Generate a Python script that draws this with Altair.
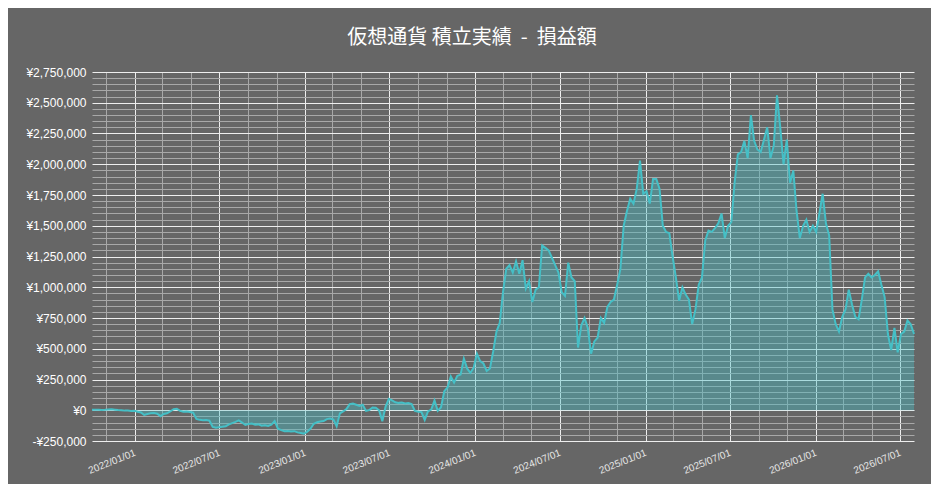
import altair as alt
import pandas as pd

# ---- data ----
start_date = "2021-10-01"          # weekly observations
pl_thousand_yen = [
    5, 4, 5, 3, 4, 6, 8, 5, 2, 0, -3, -2, -6, -4,
    -12, -18, -38, -30, -25, -22, -28, -48,
    -30, -25, -10, 8, 12, -5, -12, -10, -15, -20,
    -70, -78, -82, -80, -85, -135, -142, -138, -135, -130, -115,
    -105, -95, -82, -100, -120, -112, -108, -118, -115,
    -125, -122, -128, -118, -88, -150, -162, -170, -168, -172, -170, -180,
    -185, -190, -175, -150, -110, -98, -92, -88, -72, -68, -75, -130, -25,
    -10, 10, 50, 55, 45, 35, 45,
    -5, 2, 22, 20, 0, -90, 30, 92, 80,
    65, 60, 62, 55, 58, 50, -5, -12, -15, -80, -10, 5, 80, -5, 25,
    155, 185, 275, 225, 280, 290, 420, 340, 305, 345, 460, 400, 380, 320, 340, 480, 640, 710,
    960, 1150, 1180, 1120, 1210, 1110, 1220, 990, 1050, 880, 980, 1000, 1340,
    1320, 1300, 1240, 1180, 1120, 960, 930, 1200, 1080, 1050, 510, 690,
    750, 670, 460, 560, 590, 750, 710, 840, 880, 900, 1020, 1150,
    1500, 1620, 1720, 1680, 1800, 2030, 1760, 1780, 1680, 1880, 1880, 1800,
    1500, 1450, 1440, 1250, 1080, 890, 1000, 940, 900, 700, 820, 1020,
    1080, 1380, 1460, 1450, 1480, 1520, 1600, 1400, 1500, 1530,
    1850, 2080, 2100, 2190, 2050, 2400, 2190, 2120, 2100, 2200, 2300, 2050, 2150,
    2560, 2300, 2000, 2200, 1850, 1950, 1620, 1400, 1500, 1550, 1450, 1500,
    1450, 1600, 1760, 1520, 1420, 820, 700, 640, 760, 820, 980, 860,
    760, 740, 900, 1080, 1110, 1080, 1100, 1130, 1020, 920, 620, 490, 670, 470, 620, 640, 730, 700, 620,
]

# x grid: every 2 months (labelled every 6 months)
x_grid_months = [
    (2021, 11), (2022, 1), (2022, 3), (2022, 5), (2022, 7), (2022, 9), (2022, 11),
    (2023, 1), (2023, 3), (2023, 5), (2023, 7), (2023, 9), (2023, 11),
    (2024, 1), (2024, 3), (2024, 5), (2024, 7), (2024, 9), (2024, 11),
    (2025, 1), (2025, 3), (2025, 5), (2025, 7), (2025, 9), (2025, 11),
    (2026, 1), (2026, 3), (2026, 5), (2026, 7),
]
# y grid: every 50,000 (labelled every 250,000)
y_grid_values = list(range(-250000, 2750001, 50000))
y_domain = [-250000, 2750000]

# non-breaking spaces keep the double spaces around the dash
title_text = "仮想通貨 積立実績\u00a0\u00a0-\u00a0\u00a0損益額"

dates = pd.date_range(start=start_date, periods=len(pl_thousand_yen), freq="7D")
df = pd.DataFrame({
    "date": dates.strftime("%Y-%m-%d"),
    "pl": [v * 1000 for v in pl_thousand_yen],
})

x_values = [alt.DateTime(year=y, month=m, date=1, utc=True) for (y, m) in x_grid_months]

MAJOR = "#eeeeee"
MINOR = "#a8a8a8"
TEAL = "#45bfc6"

x_axis = alt.Axis(
    values=x_values,
    title=None,
    grid=True,
    gridColor={"condition": {"test": "utcmonth(datum.value) % 6 == 0", "value": MAJOR}, "value": MINOR},
    gridWidth=1,
    ticks=False,
    domain=False,
    labelExpr="utcmonth(datum.value) % 6 == 0 ? utcFormat(datum.value, '%Y/%m/%d') : ''",
    labelAngle=-22,
    labelAlign="right",
    labelBaseline="middle",
    labelPadding=11,
    labelFont="Liberation Sans",
    labelFontSize=10,
    labelColor="#e6e6e6",
    labelOverlap=False,
    labelFlush=False,
)

y_axis = alt.Axis(
    values=y_grid_values,
    title=None,
    grid=True,
    gridColor={"condition": {"test": "datum.value % 250000 == 0", "value": MAJOR}, "value": MINOR},
    gridWidth=1,
    ticks=False,
    domain=False,
    labelExpr="datum.value % 250000 == 0 ? (datum.value < 0 ? '-¥' : '¥') + format(abs(datum.value), ',') : ''",
    labelPadding=6,
    labelFont="Liberation Sans",
    labelFontSize=12,
    labelColor="#ffffff",
    labelOverlap=False,
    labelFlush=False,
)

chart = (
    alt.Chart(df)
    .mark_area(
        fill=TEAL,
        fillOpacity=0.4,
        line=alt.OverlayMarkDef(color=TEAL, strokeWidth=2),
        interpolate="linear",
    )
    .encode(
        x=alt.X("date:T", scale=alt.Scale(type="utc", nice=False, padding=0), axis=x_axis),
        y=alt.Y("pl:Q", scale=alt.Scale(domain=y_domain, nice=False, zero=True), axis=y_axis),
    )
    .properties(
        width=822,
        height=369,
        autosize=alt.AutoSizeParams(type="none"),
        padding={"left": 84, "top": 64, "right": 17, "bottom": 43},
        title=alt.TitleParams(
            text=title_text,
            font="Noto Sans CJK JP",
            fontSize=20,
            fontWeight="normal",
            color="#ffffff",
            anchor="middle",
            frame="bounds",
            offset=18,
        ),
        background="#666666",
    )
    .configure_view(stroke=None)
)

chart.save("out.html", embed_options={"renderer": "svg", "actions": False})
